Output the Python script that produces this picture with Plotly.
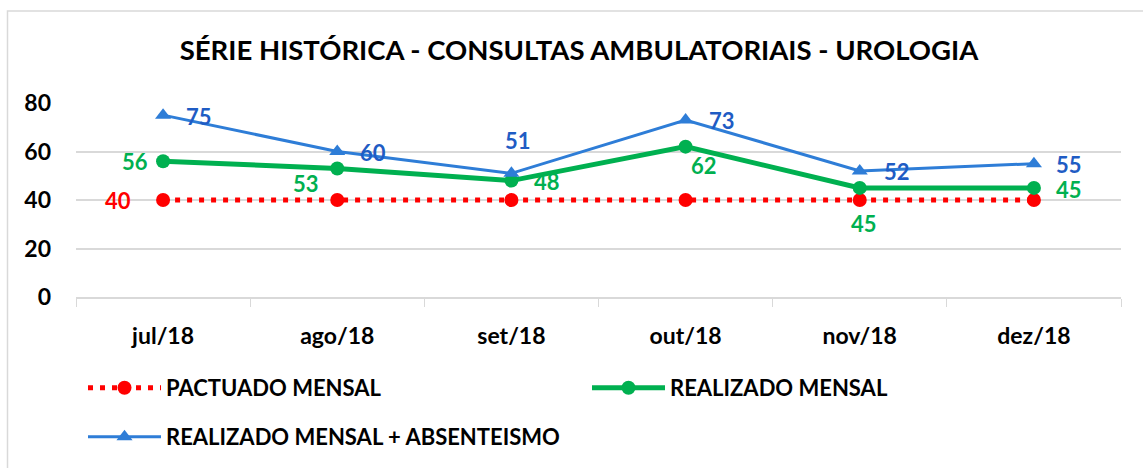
import plotly.graph_objects as go

categories = ["jul/18", "ago/18", "set/18", "out/18", "nov/18", "dez/18"]
pactuado = [40, 40, 40, 40, 40, 40]
realizado = [56, 53, 48, 62, 45, 45]
absenteismo = [75, 60, 51, 73, 52, 55]

y_ticks = [0, 20, 40, 60, 80]

FONT = "Lato"
RED = "#FF0000"
GREEN = "#00B050"
BLUE = "#2E7DD7"
BLUE_TXT = "#1F5CC4"

W, H = 1143, 468
L, R, T, B = 76, 1121, 103, 298


def px_x(px):
    return (px - L) / (R - L)


def px_y(py):
    return (B - py) / (B - T)


fig = go.Figure()

fig.add_trace(go.Scatter(
    x=categories, y=pactuado, name="PACTUADO MENSAL", mode="lines+markers",
    line=dict(color=RED, width=5, dash="5px,7px"),
    marker=dict(symbol="circle", size=14, color=RED),
    cliponaxis=False, legend="legend",
))

fig.add_trace(go.Scatter(
    x=categories, y=realizado, name="REALIZADO MENSAL", mode="lines+markers",
    line=dict(color=GREEN, width=5),
    marker=dict(symbol="circle", size=14, color=GREEN),
    cliponaxis=False, legend="legend",
))

fig.add_trace(go.Scatter(
    x=categories, y=absenteismo, name="REALIZADO MENSAL + ABSENTEISMO",
    mode="lines+markers",
    line=dict(color=BLUE, width=3),
    marker=dict(symbol="triangle-up", size=14, color=BLUE),
    cliponaxis=False, legend="legend2",
))

# data labels (pixel offsets from each point)
label_font_size = 22
annotations = []
red_shift = [(-45, 0)]
for i, (dx, dy) in enumerate(red_shift):
    annotations.append(dict(x=categories[i], y=pactuado[i], text=str(pactuado[i]),
                            xshift=dx, yshift=dy, showarrow=False,
                            font=dict(family=FONT, size=label_font_size, color=RED, weight="bold")))
green_shift = [(-28, 0), (-31, -15), (36, -1), (18, -19), (4, -36), (35, -2)]
for i, (dx, dy) in enumerate(green_shift):
    annotations.append(dict(x=categories[i], y=realizado[i], text=str(realizado[i]),
                            xshift=dx, yshift=dy, showarrow=False,
                            font=dict(family=FONT, size=label_font_size, color=GREEN, weight="bold")))
blue_shift = [(36, -1), (36, -1), (7, 33), (36, -1), (37, -1), (35, -1)]
for i, (dx, dy) in enumerate(blue_shift):
    annotations.append(dict(x=categories[i], y=absenteismo[i], text=str(absenteismo[i]),
                            xshift=dx, yshift=dy, showarrow=False,
                            font=dict(family=FONT, size=label_font_size, color=BLUE_TXT, weight="bold")))

legend_font = dict(family=FONT, size=22, color="#000000", weight="bold")

fig.update_layout(
    width=W, height=H,
    margin=dict(l=L, r=W - R, t=T, b=H - B),
    paper_bgcolor="white", plot_bgcolor="white",
    title=dict(
        text="SÉRIE HISTÓRICA - CONSULTAS AMBULATORIAIS - UROLOGIA",
        x=(180 + 978) / 2 / W, xanchor="center", xref="container",
        y=1 - 50 / H, yanchor="middle", yref="container",
        font=dict(family=FONT, size=27.5, color="#000000", weight="bold"),
    ),
    xaxis=dict(
        type="category", categoryorder="array", categoryarray=categories,
        showgrid=False, showline=True, linecolor="#D9D9D9", linewidth=1.5,
        ticks="outside", tickson="boundaries", ticklen=8, tickcolor="#D9D9D9",
        tickfont=dict(family=FONT, size=23, color="#000000", weight="bold"),
        ticklabelstandoff=18, range=[-0.5, 5.5], automargin=False,
    ),
    yaxis=dict(
        range=[0, 80], tickvals=y_ticks, showgrid=True, gridcolor="#D9D9D9",
        gridwidth=1.5, zeroline=False, showline=False,
        tickfont=dict(family=FONT, size=23, color="#000000", weight="bold"),
        ticklabelstandoff=24, automargin=False,
    ),
    legend=dict(
        orientation="h", x=px_x(83), y=px_y(388), xanchor="left", yanchor="middle",
        entrywidth=416, entrywidthmode="pixels", font=legend_font,
        itemwidth=73, bgcolor="rgba(0,0,0,0)",
    ),
    legend2=dict(
        orientation="h", x=px_x(83), y=px_y(437), xanchor="left", yanchor="middle",
        font=legend_font, itemwidth=73, bgcolor="rgba(0,0,0,0)",
    ),
    annotations=annotations,
    shapes=[dict(
        type="rect", xref="paper", yref="paper",
        x0=px_x(7.5), x1=px_x(1150), y0=px_y(10.5), y1=px_y(480),
        line=dict(color="#D9D9D9", width=1.5), fillcolor="rgba(0,0,0,0)", layer="below",
    )],
)

fig.write_html("out.html", post_script="document.body.style.margin='0px';",
               config={"displayModeBar": False})
